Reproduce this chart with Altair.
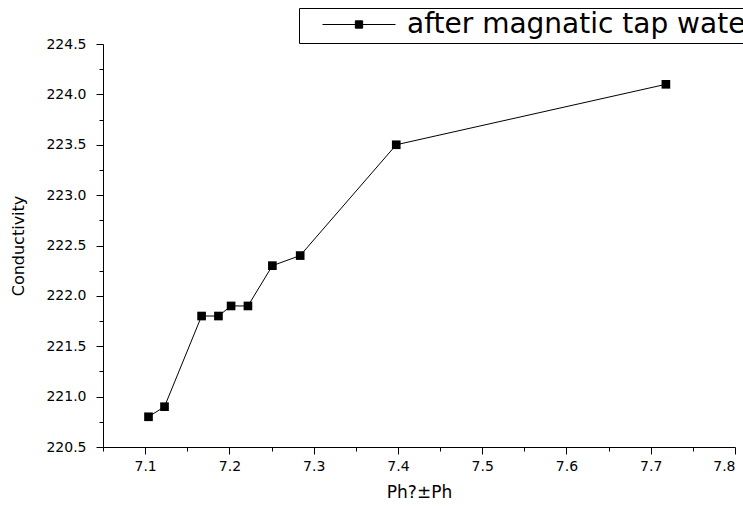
import altair as alt
import pandas as pd

# ---- data ----
ph = [7.104, 7.123, 7.167, 7.187, 7.202, 7.222, 7.251, 7.284, 7.398, 7.718]
conductivity = [220.8, 220.9, 221.8, 221.8, 221.9, 221.9, 222.3, 222.4, 223.5, 224.1]
series_name = "after magnatic tap water"

x_major = [7.1, 7.2, 7.3, 7.4, 7.5, 7.6, 7.7, 7.8]
x_minor = [7.05, 7.15, 7.25, 7.35, 7.45, 7.55, 7.65, 7.75]
y_major = [220.5, 221.0, 221.5, 222.0, 222.5, 223.0, 223.5, 224.0, 224.5]
y_minor = [220.75, 221.25, 221.75, 222.25, 222.75, 223.25, 223.75, 224.25]

df = pd.DataFrame({"ph": ph, "cond": conductivity, "series": [series_name] * len(ph)})

xs = alt.Scale(domain=[7.05, 7.8], nice=False, zero=False)
ys = alt.Scale(domain=[220.5, 224.5], nice=False, zero=False)

FONT = "DejaVu Sans"

color = alt.Color(
    "series:N",
    scale=alt.Scale(range=["black"]),
    legend=alt.Legend(
        title=None,
        orient="none",
        legendX=196,
        legendY=-36,
        direction="vertical",
        symbolType="M-1,0H1M-0.1,-0.1H0.1V0.1H-0.1Z",
        symbolSize=5329,
        symbolFillColor="black",
        symbolStrokeColor="black",
        symbolStrokeWidth=1,
        symbolOffset=19,
        labelOffset=11,
        padding=4,
        strokeColor="black",
        fillColor="white",
        cornerRadius=0,
        labelFont=FONT,
        labelFontSize=28,
        labelColor="black",
        labelLimit=2000,
        clipHeight=25,
    ),
)

x_axis = alt.Axis(
    orient="bottom", values=x_major, format=".1f", tickSize=7, labelPadding=5,
    title="Ph?±Ph", titleFontSize=17, titlePadding=11, labelFontSize=14,
)
y_axis = alt.Axis(
    orient="left", values=y_major, format=".1f", tickSize=7, labelPadding=10,
    title="Conductivity", titleFontSize=16, titlePadding=19, labelFontSize=14,
)

base = alt.Chart(df)

line = base.mark_line(strokeWidth=1).encode(
    x=alt.X("ph:Q", scale=xs, axis=x_axis),
    y=alt.Y("cond:Q", scale=ys, axis=y_axis),
    color=color,
)

points = base.mark_point(shape="square", filled=True, size=75, opacity=1).encode(
    x=alt.X("ph:Q", scale=xs, axis=None),
    y=alt.Y("cond:Q", scale=ys, axis=None),
    color=color,
)

minor = base.mark_point(opacity=0).encode(
    x=alt.X("ph:Q", scale=xs, axis=alt.Axis(orient="bottom", values=x_minor, tickSize=4,
                                            labels=False, domain=False, title=None)),
    y=alt.Y("cond:Q", scale=ys, axis=alt.Axis(orient="left", values=y_minor, tickSize=4,
                                              labels=False, domain=False, title=None)),
)

chart = (
    alt.layer(line, points, minor)
    .resolve_axis(x="independent", y="independent")
    .properties(
        width=632,
        height=403,
        padding={"left": 103, "top": 44, "right": 8, "bottom": 59},
        autosize="none",
    )
    .configure_view(stroke=None)
    .configure_axis(
        grid=False,
        domainColor="black",
        tickColor="black",
        labelColor="black",
        titleColor="black",
        labelFont=FONT,
        titleFont=FONT,
        titleFontWeight="normal",
    )
)

chart.save("out.html", embed_options={"renderer": "svg", "actions": False})
